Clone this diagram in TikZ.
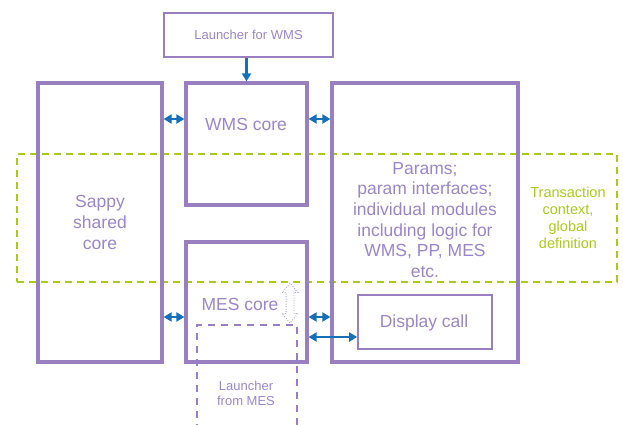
\documentclass[tikz,border=0pt]{standalone}
\usepackage{fontspec}
\setmainfont{Liberation Sans}
\usetikzlibrary{shapes.arrows,arrows.meta,calc}
\definecolor{boxline}{HTML}{9880C0}
\definecolor{boxtext}{HTML}{9A86C6}
\definecolor{ctxgreen}{HTML}{A9C91F}
\definecolor{linkblue}{HTML}{1570B8}
\definecolor{hintgray}{HTML}{ABA3CC}
\tikzset{
  corebox/.style={draw=boxline, line width=3.2pt, rectangle, inner sep=0pt, text=boxtext},
  thinbox/.style={draw=boxline, line width=1.7pt, rectangle, inner sep=0pt, text=boxtext},
  bigtext/.style={text=boxtext, align=center, font=\fontsize{17.5}{21}\selectfont},
  smalltext/.style={text=boxtext, align=center, font=\fontsize{13}{15}\selectfont},
  ctxbox/.style={draw=ctxgreen, line width=2pt, dash pattern=on 7pt off 5pt, rectangle, inner sep=0pt},
  launchbox/.style={draw=boxline, line width=2pt, dash pattern=on 7pt off 6pt, rectangle, inner sep=0pt},
  link/.style={draw=linkblue, line width=2.4pt, -{Triangle[length=8pt,width=9pt]}},
  dbllink/.style={draw=linkblue, line width=2.4pt, {Triangle[length=8pt,width=9pt]}-{Triangle[length=8pt,width=9pt]}}
}
\begin{document}
\begin{tikzpicture}[x=1pt, y=-1pt]
\useasboundingbox (0,0) rectangle (623,424);
\clip (0,0) rectangle (623,424);

% transaction context frame (behind the cores)
\node[ctxbox, minimum width=600pt, minimum height=128pt] (ctx) at (317,218) {};

% core boxes
\node[corebox, line width=2.7pt, minimum width=169pt, minimum height=44pt,
      font=\fontsize{13}{15}\selectfont] (launchW) at (248.5,35) {Launcher for WMS};
\node[corebox, minimum width=124pt, minimum height=279pt, bigtext] (sappy) at (100,222.5)
  {Sappy\\shared\\core};
\node[corebox, minimum width=121pt, minimum height=122pt] (wms) at (246.5,144) {};
\node[corebox, minimum width=121pt, minimum height=120pt] (mes) at (246.5,302) {};
\node[corebox, minimum width=186pt, minimum height=279pt] (params) at (425,222.5) {};
\node[thinbox, minimum width=134pt, minimum height=54pt] (display) at (425,322) {};

% launcher from MES, running off the lower edge
\node[launchbox, minimum width=100pt, minimum height=130pt] (launchM) at (247,390) {};

% texts
\node[bigtext] (wmsT) at (246,124) {WMS core};
\node[bigtext] (mesT) at (240,304) {MES core};
\node[bigtext, font=\fontsize{17.5}{20.7}\selectfont] (paramsT) at (425,220)
  {Params;\\param interfaces;\\individual modules\\including logic for\\WMS, PP, MES\\etc.};
\node[bigtext] (displayT) at (424,323) {Display call};
\node[smalltext] (launchMT) at (246,393.5) {Launcher\\from MES};
\node[text=ctxgreen, align=center, font=\fontsize{14.5}{17}\selectfont] (ctxT) at (568,217.5)
  {Transaction\\context,\\global\\definition};

% dotted hint arrow inside the MES core
\node[double arrow, rotate=90, draw=hintgray, line width=0.9pt,
      dash pattern=on 1pt off 1.5pt,
      minimum height=40pt, minimum width=0pt, inner xsep=0pt, inner ysep=3.5pt,
      double arrow head extend=4pt, double arrow tip angle=80] (hint) at (290,303) {};

% connectors
\coordinate (wTop) at ($(wms.west)+(0,-25)$);
\coordinate (mTop) at ($(mes.west)+(0,15)$);
\coordinate (mLow) at ($(mes.west)+(0,35)$);
\draw[link] (wms.north |- launchW.south) -- (wms.north);
\draw[dbllink] (sappy.east |- wTop) -- (wms.west |- wTop);
\draw[dbllink] (wms.east |- wTop) -- (params.west |- wTop);
\draw[dbllink] (sappy.east |- mTop) -- (mes.west |- mTop);
\draw[dbllink] (mes.east |- mTop) -- (params.west |- mTop);
\draw[dbllink] (mes.east |- mLow) -- (display.west |- mLow);
\end{tikzpicture}
\end{document}
